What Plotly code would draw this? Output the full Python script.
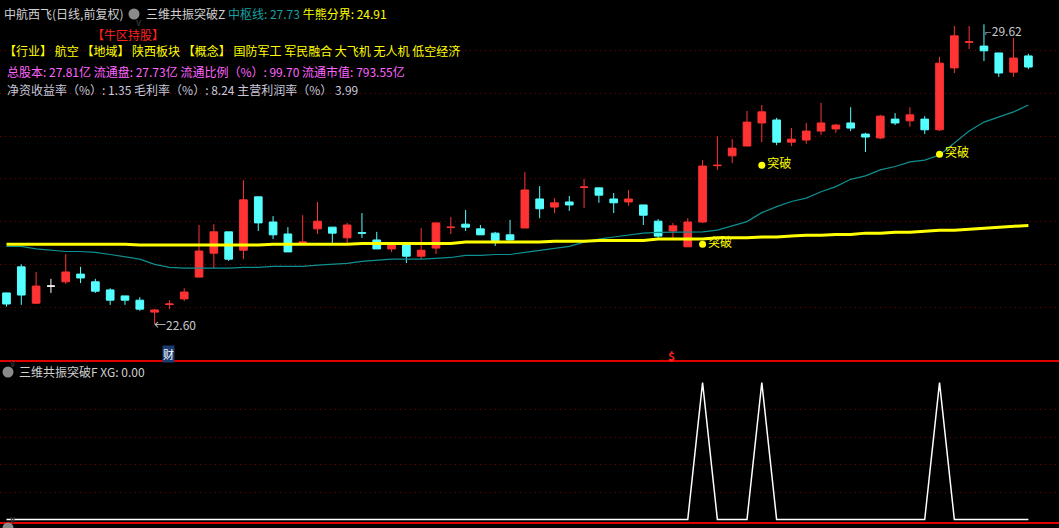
import plotly.graph_objects as go

W, H = 1059, 528

# daily bars, index 1..70
days = list(range(1, 71))
opens = [23.33, 23.94, 23.09, 23.49, 23.59, 23.77, 23.59, 23.40, 23.26, 23.16,
         22.88, 23.06, 23.19, 23.70, 24.26, 24.76, 24.33, 25.58, 24.99, 24.71,
         24.50, 24.83, 24.87, 24.62, 24.74, 24.57, 24.36, 24.45, 24.19, 24.38,
         24.86, 24.94, 24.83, 24.73, 24.69, 24.85, 25.53, 25.34, 25.46, 25.80,
         25.79, 25.53, 25.46, 25.39, 25.01, 24.78, 24.41, 24.99, 26.31, 26.54,
         26.77, 27.31, 27.38, 26.86, 26.91, 27.12, 27.17, 27.31, 27.05, 26.96,
         27.40, 27.36, 27.40, 27.15, 28.60, 29.20, 29.11, 28.95, 28.50, 28.88]
highs = [23.33, 24.00, 23.82, 23.66, 24.24, 23.94, 23.66, 23.44, 23.26, 23.23,
         22.95, 23.16, 23.44, 24.92, 24.94, 24.76, 25.97, 25.58, 25.13, 24.87,
         25.15, 25.46, 24.87, 24.97, 25.20, 24.76, 24.45, 24.45, 24.85, 24.97,
         25.11, 25.27, 24.92, 24.76, 25.04, 26.16, 25.83, 25.55, 25.60, 26.00,
         25.79, 25.67, 25.74, 25.39, 25.06, 24.97, 25.08, 26.44, 27.00, 26.93,
         27.59, 27.73, 27.43, 27.19, 27.31, 27.78, 27.29, 27.68, 27.08, 27.50,
         27.54, 27.68, 27.47, 28.86, 29.58, 29.58, 29.62, 28.95, 29.30, 28.93]
lows = [23.01, 23.05, 23.07, 23.33, 23.54, 23.56, 23.33, 23.05, 23.05, 22.91,
        22.60, 22.95, 23.14, 23.70, 23.91, 24.08, 24.12, 24.78, 24.59, 24.29,
        24.50, 24.71, 24.50, 24.50, 24.62, 24.36, 24.29, 24.03, 24.12, 24.24,
        24.71, 24.78, 24.69, 24.43, 24.55, 24.85, 25.08, 25.20, 25.25, 25.32,
        25.44, 25.20, 25.37, 24.92, 24.62, 24.62, 24.41, 24.97, 26.21, 26.37,
        26.77, 26.86, 26.79, 26.77, 26.82, 27.03, 27.08, 27.12, 26.63, 26.93,
        27.26, 27.22, 27.05, 27.12, 28.48, 29.04, 28.76, 28.39, 28.39, 28.57]
closes = [23.07, 23.28, 23.49, 23.49, 23.82, 23.68, 23.37, 23.16, 23.16, 22.95,
          22.93, 23.07, 23.35, 24.31, 24.76, 24.12, 25.51, 24.97, 24.69, 24.29,
          24.52, 25.01, 24.73, 24.92, 24.73, 24.36, 24.45, 24.19, 24.33, 24.97,
          24.87, 24.87, 24.69, 24.55, 24.57, 25.74, 25.30, 25.44, 25.39, 25.81,
          25.62, 25.44, 25.53, 25.15, 24.66, 24.90, 24.99, 26.30, 26.32, 26.72,
          27.33, 27.57, 26.86, 26.93, 27.12, 27.31, 27.26, 27.19, 26.98, 27.47,
          27.31, 27.50, 27.15, 28.71, 29.35, 29.21, 29.00, 28.48, 28.83, 28.62]

# 牛熊分界 (yellow) and 中枢线 (teal)
bull_bear = [24.47] * 9 + [24.45] * 9 + [24.47] * 6 + [24.49] * 7 + [24.52] * 6 + \
            [24.54] * 3 + [24.56] * 4 + [24.59] * 4 + [24.62] * 3 + [24.64] * 2 + \
            [24.66, 24.68, 24.68, 24.70, 24.70, 24.73, 24.73, 24.75, 24.75, 24.77,
             24.80, 24.80, 24.82, 24.84, 24.87, 24.89, 24.91]
pivot = [24.42, 24.42, 24.36, 24.33, 24.30, 24.30, 24.28, 24.23, 24.18, 24.12,
         24.00, 23.93, 23.91, 23.91, 23.91, 23.91, 23.93, 23.93, 23.95, 23.95,
         23.95, 23.98, 24.00, 24.02, 24.07, 24.09, 24.12, 24.12, 24.12, 24.14,
         24.16, 24.21, 24.21, 24.23, 24.23, 24.28, 24.33, 24.37, 24.42, 24.52,
         24.59, 24.64, 24.69, 24.73, 24.75, 24.75, 24.76, 24.76, 24.80, 24.90,
         25.00, 25.21, 25.35, 25.47, 25.55, 25.70, 25.82, 25.99, 26.07, 26.21,
         26.29, 26.40, 26.44, 26.56, 26.84, 27.12, 27.33, 27.45, 27.57, 27.73]

# 突破 signals
break_days = [48, 52, 64]
break_px = [24.47, 26.32, 26.58]
xg = [1 if d in break_days else 0 for d in days]

RED = "#ff3333"
CYAN = "#54ffff"
GRID = "#7a0000"
FONT = "Noto Sans CJK SC"


def px(x):
    return x / W


def py(y):
    return 1 - y / H


def pick(cond):
    idx = [i for i in range(len(days)) if cond(opens[i], closes[i])]
    return ([days[i] for i in idx], [opens[i] for i in idx], [highs[i] for i in idx],
            [lows[i] for i in idx], [closes[i] for i in idx])


fig = go.Figure()
for cond, col in [(lambda o, c: c > o, RED), (lambda o, c: c < o, CYAN), (lambda o, c: c == o, "#ffffff")]:
    x, o, h, l, c = pick(cond)
    fig.add_trace(go.Candlestick(
        x=x, open=o, high=h, low=l, close=c,
        increasing=dict(line=dict(color=col, width=1), fillcolor=col),
        decreasing=dict(line=dict(color=col, width=1), fillcolor=col),
        showlegend=False, hoverinfo="skip"))

fig.add_trace(go.Scatter(x=days, y=pivot, mode="lines", line=dict(color="#0e9090", width=1.2),
                         showlegend=False, hoverinfo="skip"))
fig.add_trace(go.Scatter(x=days, y=bull_bear, mode="lines", line=dict(color="#ffff00", width=3),
                         showlegend=False, hoverinfo="skip"))
fig.add_trace(go.Scatter(x=break_days, y=break_px, mode="markers+text", text=["突破"] * 3,
                         textposition="middle right", textfont=dict(color="#ffff00", size=12, family=FONT),
                         marker=dict(color="#ffff00", size=7), showlegend=False, hoverinfo="skip"))
fig.add_trace(go.Scatter(x=days, y=xg, mode="lines", line=dict(color="#ffffff", width=1.5),
                         xaxis="x2", yaxis="y2", showlegend=False, hoverinfo="skip"))

# price scale: 23.00 sits at pixel 307, 42.7 px per yuan
y_top = 23 + 307 / 42.7
y_bot = 23 - (362 - 307) / 42.7
xr = [1 - 6.5 / 14.81, 1 + (W - 6.5) / 14.81]

fig.update_layout(
    width=W, height=H, margin=dict(l=0, r=0, t=0, b=0),
    paper_bgcolor="#000000", plot_bgcolor="#000000",
    boxgap=0.26,
    font=dict(family=FONT, size=12, color="#d0d0d0"),
    xaxis=dict(range=xr, domain=[0, 1], showgrid=False, zeroline=False, showticklabels=False,
               rangeslider=dict(visible=False), anchor="y"),
    yaxis=dict(range=[y_bot, y_top], domain=[py(362), 1], tickvals=list(range(23, 30)),
               showgrid=True, gridcolor=GRID, griddash="1px,4px", gridwidth=1,
               zeroline=False, showticklabels=False),
    xaxis2=dict(range=xr, domain=[0, 1], matches="x", anchor="y2", showgrid=False, zeroline=False,
                showticklabels=False, showline=True, mirror=True, linecolor="#e00000", linewidth=1.6),
    yaxis2=dict(range=[-2.5 / 137, 157.5 / 137], domain=[py(522), py(362)],
                tickvals=[0.2, 0.4, 0.6, 0.8], showgrid=True, gridcolor=GRID, griddash="1px,4px",
                gridwidth=1, zeroline=False, showticklabels=False),
)

ann = []


def label(x, y, text, color="#d0d0d0", size=12, **kw):
    ann.append(dict(x=px(x), y=py(y), xref="paper", yref="paper", text=text, showarrow=False,
                    xanchor="left", yanchor="middle", font=dict(color=color, size=size, family=FONT), **kw))


label(2, 14, "中航西飞(日线,前复权)")
label(144, 14, "三维共振突破Z <span style='color:#1aa0a0'>中枢线: 27.73</span> "
               "<span style='color:#ffff00'>牛熊分界: 24.91</span>")
label(90, 34, "【牛区持股】", color="#ff2020")
label(2, 51, "【行业】 航空 【地域】 陕西板块 【概念】 国防军工 军民融合 大飞机 无人机 低空经济", color="#ffff00")
label(5, 71, "总股本: 27.81亿 流通盘: 27.73亿 流通比例（%）: 99.70 流通市值: 793.55亿", color="#ff66ff")
label(5, 89, "净资收益率（%）: 1.35 毛利率（%）: 8.24 主营利润率（%） 3.99", color="#c8c8dc")
label(17, 371, "三维共振突破F XG: 0.00")
label(17, 532, "MACD(12,26,9) DIF: 0.88 <span style='color:#ffff00'>DEA: 0.70</span> "
               "<span style='color:#ff33ff'>MACD: 0.37</span>")
label(162, 354, "财", color="#ffffff", size=11, bgcolor="#1c3c70", borderpad=0)
label(666, 355, "<b>$</b>", color="#ff2020", size=12)

# price extremes
ann.append(dict(x=11, y=22.60, xref="x", yref="y", text="←22.60", showarrow=False, xanchor="left",
                yanchor="middle", xshift=-3, font=dict(color="#c8c8c8", size=12, family=FONT)))
ann.append(dict(x=67, y=29.62, xref="x", yref="y", text="⌐29.62", showarrow=False, xanchor="left",
                yanchor="top", xshift=-1, yshift=4, font=dict(color="#c8c8c8", size=12, family=FONT)))

for cx, cy in ((134, 14), (8, 372), (8, 528)):
    fig.add_shape(type="circle", xref="paper", yref="paper", x0=px(cx - 5.5), x1=px(cx + 5.5),
                  y0=py(cy + 5.5), y1=py(cy - 5.5), fillcolor="#8a8a8a", line=dict(width=0))
    ann.append(dict(x=px(cx), y=py(cy), xref="paper", yref="paper", text="<b>v</b>", showarrow=False,
                    font=dict(color="#303030", size=9, family=FONT)))

fig.update_layout(annotations=ann)
fig.write_html("out.html", config={"displayModeBar": False},
               post_script="document.body.style.margin='0';"
                           "document.body.style.overflow='hidden';")
